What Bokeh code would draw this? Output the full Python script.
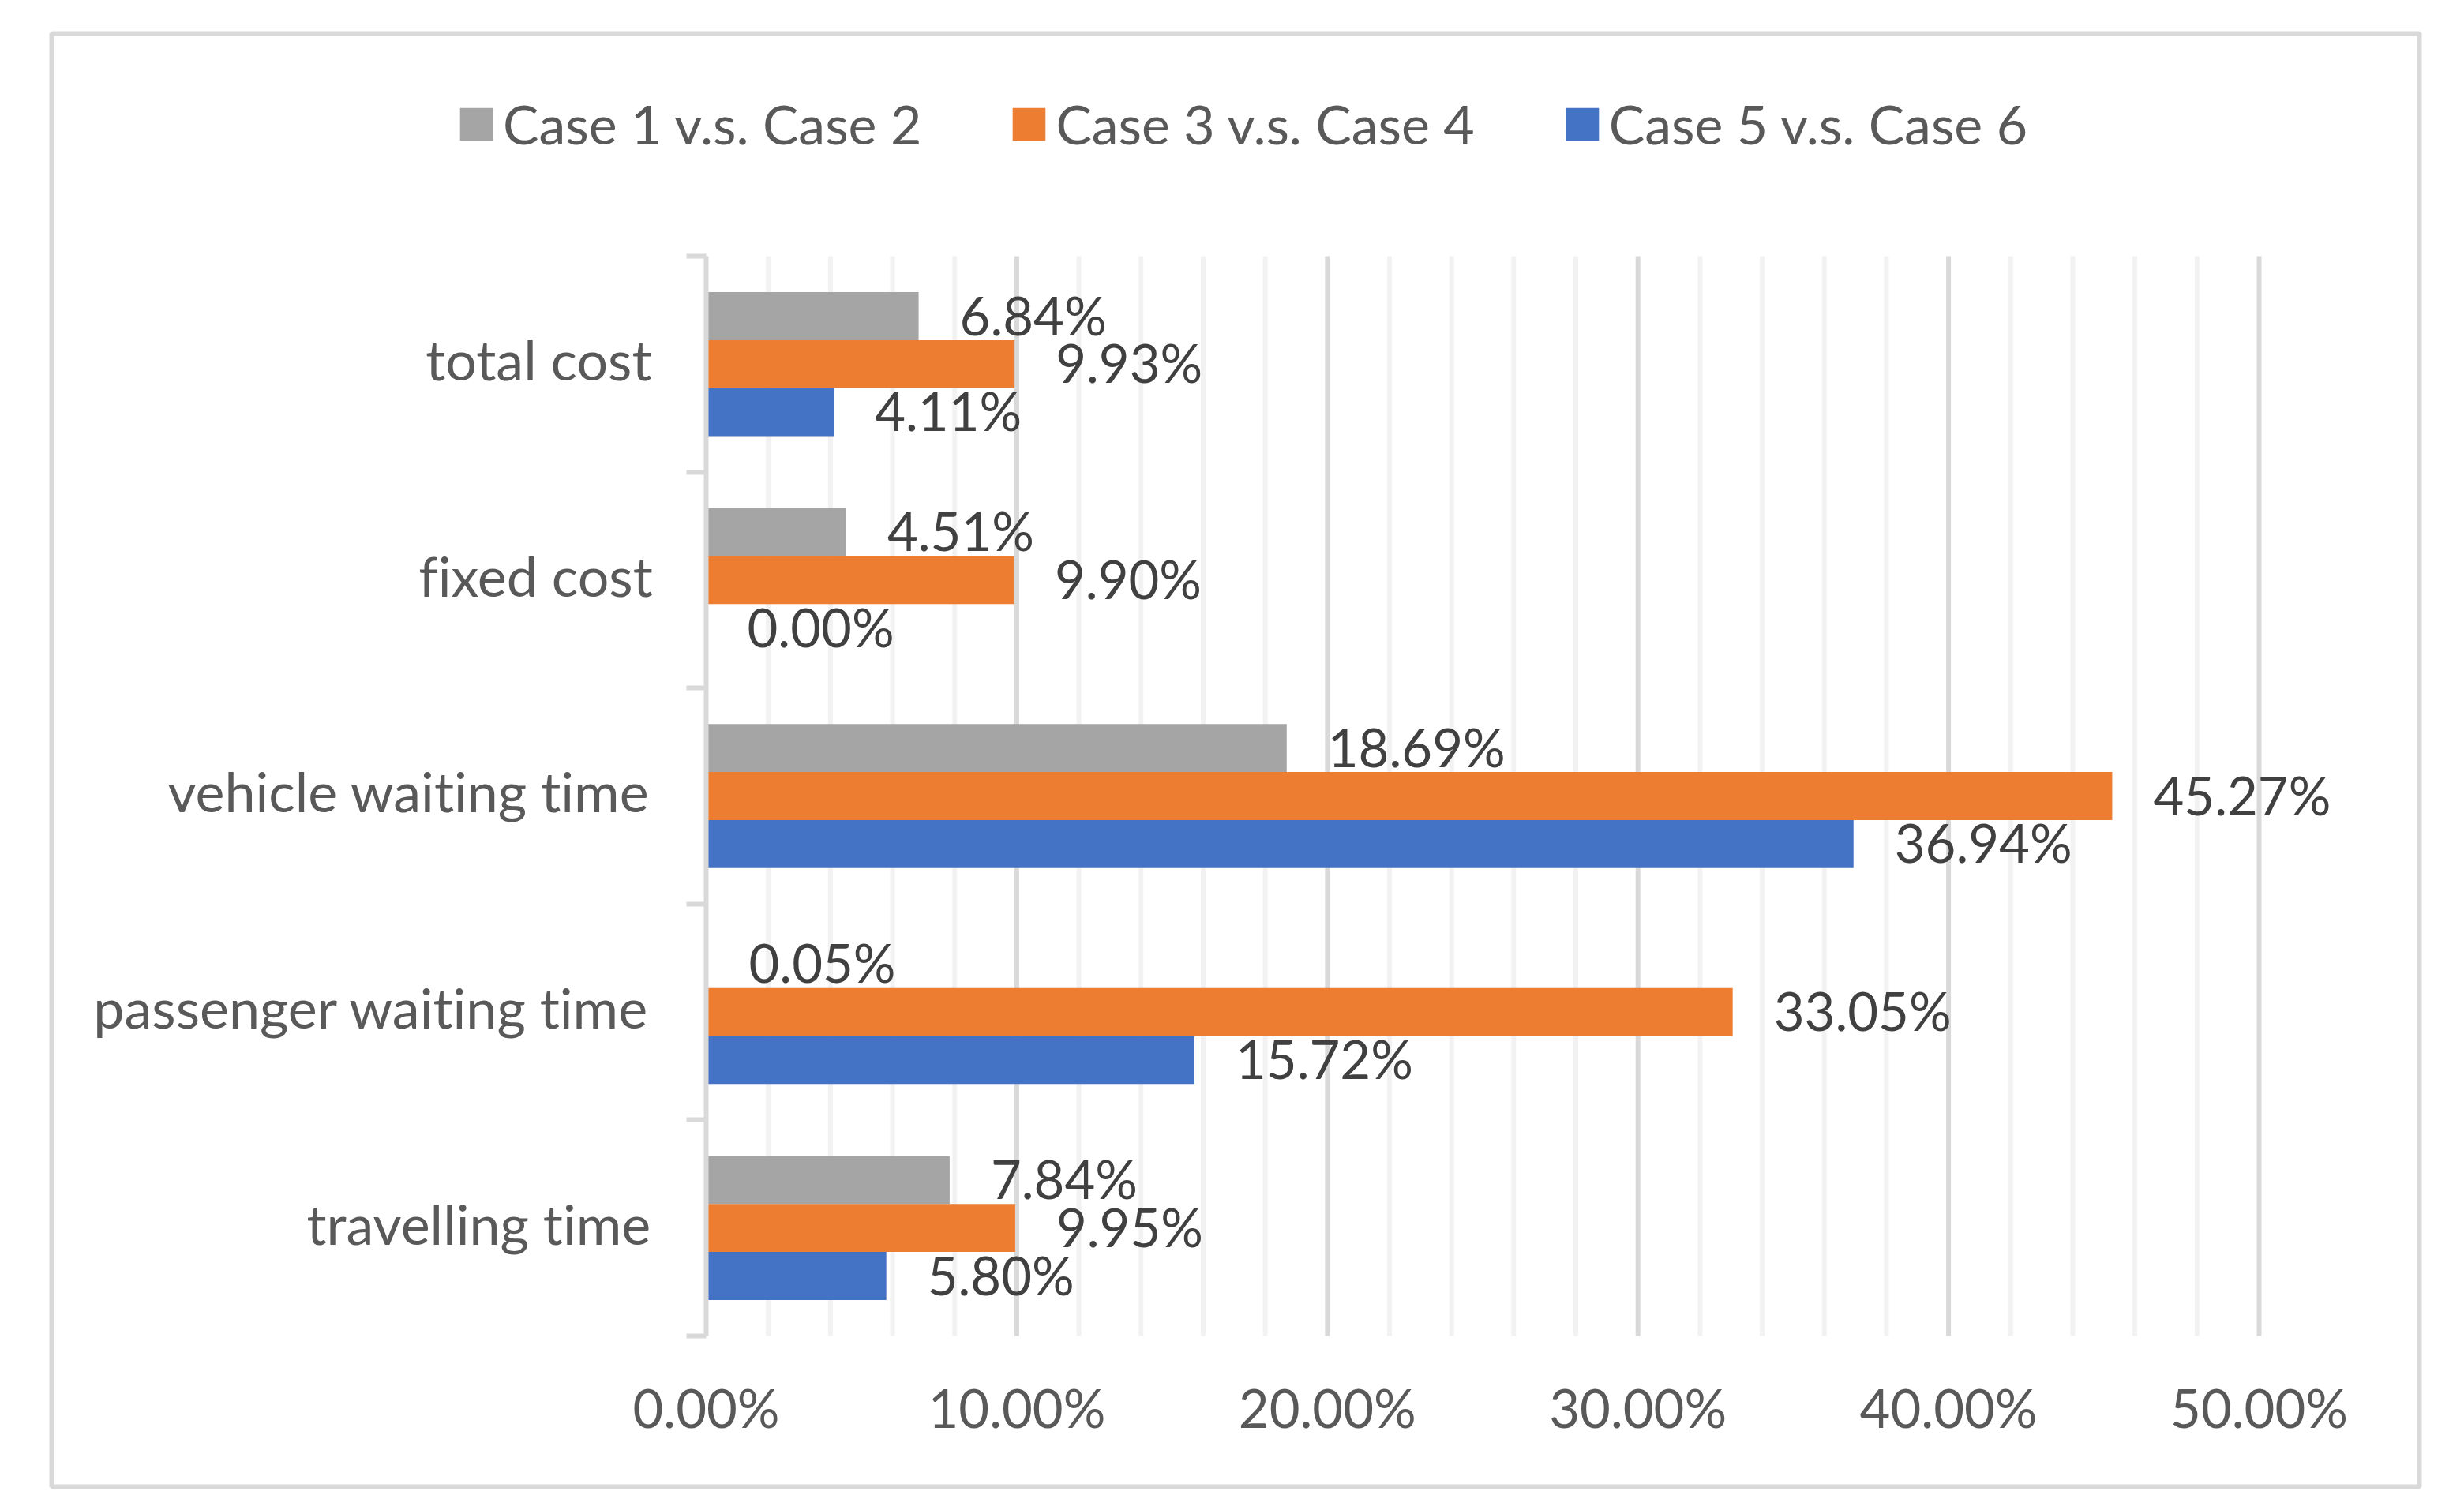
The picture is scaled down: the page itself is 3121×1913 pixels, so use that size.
from bokeh.plotting import figure
from bokeh.models import (ColumnDataSource, Range1d, FixedTicker, NumeralTickFormatter,
                          Legend, LegendItem, InlineStyleSheet)
from bokeh.core.properties import value
from bokeh.transform import dodge
from bokeh.embed import file_html
from bokeh.resources import INLINE

# ---- data (top-to-bottom order as in the chart) ----
categories = ["total cost", "fixed cost", "vehicle waiting time",
              "passenger waiting time", "travelling time"]
series_names = ["Case 1 v.s. Case 2", "Case 3 v.s. Case 4", "Case 5 v.s. Case 6"]
case12 = [6.84, 4.51, 18.69, 0.05, 7.84]
case34 = [9.93, 9.90, 45.27, 33.05, 9.95]
case56 = [4.11, 0.00, 36.94, 15.72, 5.80]
x_ticks = [0.0, 0.1, 0.2, 0.3, 0.4, 0.5]
x_minor = [0.02, 0.04, 0.06, 0.08, 0.12, 0.14, 0.16, 0.18, 0.22, 0.24, 0.26, 0.28,
           0.32, 0.34, 0.36, 0.38, 0.42, 0.44, 0.46, 0.48]

colors = ["#A5A5A5", "#ED7D31", "#4472C4"]
FONT = "Lato"
W, H = 3105, 1897

# ---- layout geometry (pixels) ----
BOX_L, BOX_R, BOX_T, BOX_B = 65, 3064, 42, 1883      # outer chart border = frame
ZERO_X, PX_PER_UNIT = 894, 3934                       # x position of 0 %, px per 100 %
ROW_TOP, ROW_BOT = 324, 1692                           # category area
LABEL_NUDGE = 0.022                                    # small upward nudge of category labels

n = len(categories)
ypos = [n - 1 - i for i in range(n)]  # top category gets highest y
row_px = (ROW_BOT - ROW_TOP) / n

x0 = -(ZERO_X - BOX_L) / PX_PER_UNIT
x1 = x0 + (BOX_R - BOX_L) / PX_PER_UNIT
y1 = (n - 0.5) + (ROW_TOP - BOX_T) / row_px
y0 = -0.5 - (BOX_B - ROW_BOT) / row_px

p = figure(width=W, height=H, output_backend="svg", toolbar_location=None,
           x_range=Range1d(x0, x1), y_range=Range1d(y0, y1),
           min_border_left=BOX_L, min_border_right=W - BOX_R,
           min_border_top=BOX_T, min_border_bottom=H - BOX_B,
           background_fill_color="white", border_fill_color="white")
p.stylesheets = [InlineStyleSheet(css=":host, :host *, svg, svg text "
                                      "{ font-variant-ligatures: none !important; "
                                      "font-feature-settings: 'liga' 0, 'clig' 0, 'dlig' 0 !important; }")]
p.outline_line_color = "#d9d9d9"
p.outline_line_width = 6
p.xgrid.visible = False
p.ygrid.visible = False

# ---- gridlines (limited to the category area) ----
p.segment(x0=x_minor, x1=x_minor, y0=[-0.5] * len(x_minor), y1=[n - 0.5] * len(x_minor),
          line_color="#f2f2f2", line_width=6)
p.segment(x0=x_ticks[1:], x1=x_ticks[1:], y0=[-0.5] * (len(x_ticks) - 1),
          y1=[n - 0.5] * (len(x_ticks) - 1), line_color="#d9d9d9", line_width=6)

# ---- bars + data labels ----
bar_h = 1 / 4.5
offsets = [bar_h, 0.0, -bar_h]
renderers = []
for vals, col, off in zip([case12, case34, case56], colors, offsets):
    src = ColumnDataSource(dict(
        y=ypos,
        v=[v / 100 for v in vals],
        lab=["%.2f%%" % v for v in vals],
    ))
    r = p.hbar(y=dodge("y", off, range=p.y_range), left=0, right="v", height=bar_h,
               source=src, fill_color=col, line_color=None)
    renderers.append(r)
    p.text(x="v", y=dodge("y", off + 0.007, range=p.y_range), text="lab", source=src,
           x_offset=52, text_baseline="middle", text_align="left",
           text_font=value(FONT), text_font_size="67px", text_color="#404040")

# ---- x axis ----
xa = p.xaxis[0]
xa.fixed_location = -0.5
xa.bounds = (0, 0.5)
xa.ticker = FixedTicker(ticks=x_ticks, minor_ticks=[])
xa.formatter = NumeralTickFormatter(format="0.00%")
xa.axis_line_color = None
xa.major_tick_line_color = None
xa.minor_tick_line_color = None
xa.major_label_text_font = FONT
xa.major_label_text_font_size = "67px"
xa.major_label_text_color = "#595959"
xa.major_label_standoff = 44

# ---- y axis ----
label_ticks = [y + LABEL_NUDGE for y in ypos]
ya = p.yaxis[0]
ya.fixed_location = 0
ya.bounds = (-0.5, n - 0.5)
ya.ticker = FixedTicker(ticks=label_ticks, minor_ticks=[k - 0.5 for k in range(n + 1)])
ya.major_label_overrides = {t: c for t, c in zip(label_ticks, categories)}
ya.axis_line_color = "#d9d9d9"
ya.axis_line_width = 6
ya.major_tick_line_color = None
ya.major_tick_out = 0
ya.major_tick_in = 0
ya.minor_tick_line_color = "#d9d9d9"
ya.minor_tick_line_width = 6
ya.minor_tick_out = 25
ya.minor_tick_in = 0
ya.major_label_text_font = FONT
ya.major_label_text_font_size = "70px"
ya.major_label_text_color = "#595959"
ya.major_label_standoff = 44

# ---- legend ----
legend = Legend(items=[LegendItem(label=s, renderers=[r]) for s, r in zip(series_names, renderers)],
                orientation="horizontal", location=(577 - BOX_L, (BOX_B - 161) - 36),
                glyph_width=52, glyph_height=52, label_standoff=8, spacing=110,
                padding=0, margin=0, border_line_color=None, background_fill_alpha=0,
                label_text_font=FONT, label_text_font_size="68px",
                label_text_color="#595959")
p.add_layout(legend, "center")

open("out.html", "w").write(file_html(p, INLINE))
